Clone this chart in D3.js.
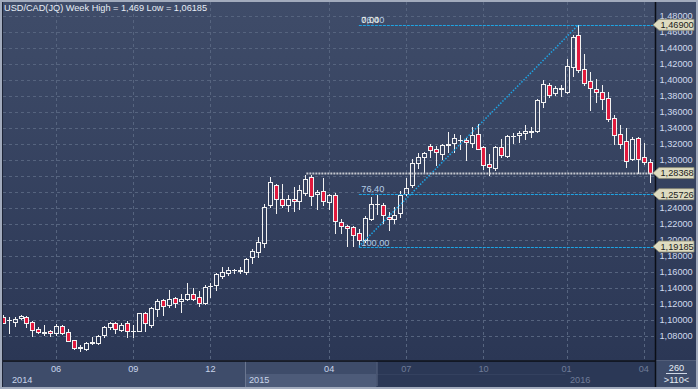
<!DOCTYPE html>
<html>
<head>
<meta charset="utf-8">
<title>USD/CAD(JQ) Week</title>
<script src="https://cdn.jsdelivr.net/npm/d3@7/dist/d3.min.js"></script>
<style>
  html, body { margin: 0; padding: 0; background: #a2abbd; }
  svg { display: block; }
  text { font-family: "Liberation Sans", Arial, sans-serif; font-size: 9.2px; }
</style>
</head>
<body>
<div id="chart"></div>
<script>
// weekly bars as seen on screen, oldest first (110 visible)
const opens = [
  1.1041, 1.0995, 1.0971, 1.1025, 1.1034, 1.0973, 1.0884, 1.0843, 1.0859, 1.0834,
  1.0925, 1.0846, 1.0750, 1.0655, 1.0638, 1.0718, 1.0716, 1.0809, 1.0909, 1.0959,
  1.0881, 1.0959, 1.0863, 1.0866, 1.1084, 1.0934, 1.1141, 1.1250, 1.1188, 1.1275,
  1.1234, 1.1263, 1.1325, 1.1284, 1.1209, 1.1422, 1.1434, 1.1550, 1.1591, 1.1619,
  1.1609, 1.1604, 1.1791, 1.1844, 1.1966, 1.2434, 1.2684, 1.2516, 1.2441, 1.2516,
  1.2491, 1.2591, 1.2784, 1.2571, 1.2609, 1.2471, 1.2559, 1.2221, 1.2175, 1.2159,
  1.2084, 1.2000, 1.2266, 1.2447, 1.2434, 1.2291, 1.2259, 1.2341, 1.2575, 1.2688,
  1.2966, 1.3034, 1.3172, 1.3134, 1.3079, 1.3193, 1.3216, 1.3247, 1.3246, 1.3209,
  1.3325, 1.3159, 1.2950, 1.2900, 1.3159, 1.3054, 1.3297, 1.3309, 1.3334, 1.3356,
  1.3359, 1.3719, 1.3938, 1.3834, 1.3889, 1.3850, 1.4166, 1.4563, 1.4134, 1.3984,
  1.3888, 1.3850, 1.3775, 1.3525, 1.3321, 1.3238, 1.3016, 1.3275, 1.3038, 1.2971
];
const highs = [
  1.1065, 1.1034, 1.1034, 1.1059, 1.1050, 1.0990, 1.0916, 1.0938, 1.0875, 1.0950,
  1.0938, 1.0884, 1.0756, 1.0691, 1.0720, 1.0791, 1.0816, 1.0925, 1.0975, 1.0975,
  1.0966, 1.0988, 1.0934, 1.1090, 1.1100, 1.1166, 1.1266, 1.1266, 1.1375, 1.1284,
  1.1325, 1.1463, 1.1400, 1.1359, 1.1434, 1.1463, 1.1591, 1.1666, 1.1659, 1.1641,
  1.1659, 1.1775, 1.1891, 1.2041, 1.2450, 1.2784, 1.2700, 1.2700, 1.2566, 1.2659,
  1.2684, 1.2816, 1.2816, 1.2625, 1.2775, 1.2575, 1.2584, 1.2259, 1.2191, 1.2175,
  1.2141, 1.2300, 1.2534, 1.2559, 1.2466, 1.2350, 1.2416, 1.2616, 1.2775, 1.3009,
  1.3091, 1.3100, 1.3200, 1.3171, 1.3200, 1.3350, 1.3325, 1.3309, 1.3275, 1.3409,
  1.3450, 1.3175, 1.3075, 1.3175, 1.3266, 1.3309, 1.3341, 1.3359, 1.3434, 1.3416,
  1.3766, 1.4000, 1.3959, 1.3925, 1.3934, 1.4259, 1.4566, 1.4690, 1.4325, 1.4100,
  1.4009, 1.3934, 1.3850, 1.3559, 1.3434, 1.3400, 1.3291, 1.3291, 1.3209, 1.3009
];
const lows = [
  1.0960, 1.0841, 1.0925, 1.1009, 1.0916, 1.0806, 1.0834, 1.0816, 1.0800, 1.0816,
  1.0825, 1.0738, 1.0638, 1.06185, 1.0629, 1.0696, 1.0700, 1.0784, 1.0891, 1.0841,
  1.0866, 1.0791, 1.0791, 1.0860, 1.0866, 1.0916, 1.1050, 1.1063, 1.1166, 1.1166,
  1.1104, 1.1250, 1.1250, 1.1175, 1.1200, 1.1291, 1.1375, 1.1525, 1.1566, 1.1591,
  1.1591, 1.1575, 1.1716, 1.1791, 1.1909, 1.2409, 1.2341, 1.2409, 1.2359, 1.2366,
  1.2391, 1.2566, 1.2441, 1.2391, 1.2441, 1.2384, 1.2084, 1.2091, 1.1925, 1.1925,
  1.19185, 1.1975, 1.2250, 1.2325, 1.2209, 1.2125, 1.2216, 1.2291, 1.2559, 1.2666,
  1.2900, 1.2850, 1.3034, 1.2941, 1.3009, 1.3100, 1.3100, 1.3141, 1.3000, 1.3166,
  1.3134, 1.2891, 1.2816, 1.2875, 1.3034, 1.3041, 1.3216, 1.3225, 1.3266, 1.3284,
  1.3350, 1.3666, 1.3791, 1.3809, 1.3800, 1.3834, 1.4050, 1.4100, 1.3938, 1.3625,
  1.3725, 1.3634, 1.3491, 1.3200, 1.3150, 1.2916, 1.3000, 1.2834, 1.2950, 1.2725
];
const closes = [
  1.0966, 1.1000, 1.1012, 1.1050, 1.0959, 1.0881, 1.0844, 1.0848, 1.0834, 1.0925,
  1.0841, 1.0741, 1.0654, 1.0665, 1.0716, 1.0725, 1.0800, 1.0909, 1.0959, 1.0888,
  1.0938, 1.0866, 1.0868, 1.1084, 1.0959, 1.1154, 1.1241, 1.1179, 1.1266, 1.1216,
  1.1263, 1.1325, 1.1266, 1.1216, 1.1409, 1.1428, 1.1575, 1.1600, 1.1625, 1.1623,
  1.1629, 1.1759, 1.1859, 1.1971, 1.2410, 1.2725, 1.2516, 1.2434, 1.2516, 1.2491,
  1.2621, 1.2766, 1.2546, 1.2596, 1.2484, 1.2559, 1.2234, 1.2171, 1.2150, 1.2059,
  1.2000, 1.2271, 1.2450, 1.2452, 1.2309, 1.2259, 1.2309, 1.2563, 1.2650, 1.2959,
  1.3034, 1.3084, 1.3119, 1.3094, 1.3184, 1.3198, 1.3271, 1.3252, 1.3221, 1.3309,
  1.3141, 1.2934, 1.2909, 1.3159, 1.3066, 1.3296, 1.3302, 1.3338, 1.3363, 1.3361,
  1.3750, 1.3950, 1.3816, 1.3900, 1.3894, 1.4175, 1.4541, 1.4125, 1.3966, 1.3906,
  1.3846, 1.3759, 1.3509, 1.3309, 1.3196, 1.2991, 1.3266, 1.3009, 1.2979, 1.28368
];

// time axis: bar index -> label
const monthTickIdx = [9, 22, 35, 55, 68, 81, 95, 108];
const monthTickLabels = ["06", "09", "12", "04", "07", "10", "01", "04"];
const yearIdx = [1, 41, 95];
const yearLabels = ["2014", "2015", "2016"];

// fibonacci drawing: from low bar to high bar
const fibLowIdx = 60, fibHighIdx = 97;
const fibLow = 1.19185, fibHigh = 1.469;
const fibLevels = [0, 76.4, 100];
const lastPrice = 1.28368;
const lastLineFromIdx = 52;
const barsLoaded = 260;

const W = 698, H = 389;
const pLeft = 3, pRight = 655, pTop = 2, pBottom = 360.5;

const fmtPrice = v => d3.format(".5f")(v).replace(".", ",");
const fmtPct = v => d3.format(".2f")(v).replace(".", ",");

const x = d3.scalePoint().domain(d3.range(opens.length)).range([2.7, 649.7]);
const y = d3.scaleLinear().domain([1.08, 1.48]).range([336, 16]);
const px = v => Math.round(v) + 0.5;

const svg = d3.select("#chart").append("svg")
  .attr("width", W).attr("height", H);

const defs = svg.append("defs");
const grad = defs.append("linearGradient").attr("id", "bg")
  .attr("x1", 0).attr("y1", 0).attr("x2", 0).attr("y2", 1);
grad.append("stop").attr("offset", 0).attr("stop-color", "#3f4c69");
grad.append("stop").attr("offset", 1).attr("stop-color", "#2b3755");
defs.append("clipPath").attr("id", "plotclip")
  .append("rect").attr("x", pLeft).attr("y", pTop).attr("width", pRight - pLeft).attr("height", pBottom - pTop);

// frame + backgrounds
svg.append("rect").attr("width", W).attr("height", H).attr("fill", "#a2abbd");
svg.append("rect").attr("x", 2).attr("y", 2).attr("width", W - 4).attr("height", pBottom - 2)
  .attr("fill", "url(#bg)");

const plot = svg.append("g").attr("clip-path", "url(#plotclip)");

// grid
const yTicks = y.ticks(20);
plot.append("g").selectAll("line").data(yTicks).join("line")
  .attr("x1", pLeft).attr("x2", pRight)
  .attr("y1", d => px(y(d))).attr("y2", d => px(y(d)))
  .attr("stroke", "#56647f").attr("stroke-dasharray", "3,3");
plot.append("g").selectAll("line").data(monthTickIdx).join("line")
  .attr("x1", d => px(x(d))).attr("x2", d => px(x(d)))
  .attr("y1", pTop).attr("y2", pBottom)
  .attr("stroke", "#56647f").attr("stroke-dasharray", "3,3");

// candles
const bars = d3.range(opens.length).map(i => ({
  i: i, o: opens[i], h: highs[i], l: lows[i], c: closes[i]
}));
const candle = plot.append("g").selectAll("g").data(bars).join("g");
candle.each(function(d) {
  const g = d3.select(this);
  const cx = px(x(d.i));
  const yTop = Math.round(y(Math.max(d.o, d.c)));
  const yBot = Math.round(y(Math.min(d.o, d.c)));
  const up = d.c >= d.o;
  g.append("line").attr("x1", cx).attr("x2", cx)
    .attr("y1", Math.round(y(d.h))).attr("y2", yTop + 0.5)
    .attr("stroke", "#f2f2f2");
  g.append("line").attr("x1", cx).attr("x2", cx)
    .attr("y1", yBot + 0.5).attr("y2", Math.round(y(d.l)) + 1)
    .attr("stroke", "#f2f2f2");
  if (yBot - yTop < 1) {
    g.append("line").attr("x1", cx - 2.5).attr("x2", cx + 2.5)
      .attr("y1", yTop + 0.5).attr("y2", yTop + 0.5)
      .attr("stroke", "#f2f2f2");
  } else {
    g.append("rect").attr("x", cx - 2).attr("y", yTop + 0.5)
      .attr("width", 4).attr("height", yBot - yTop)
      .attr("fill", up ? "none" : "#e1193d")
      .attr("stroke", "#f2f2f2");
  }
});

// fibonacci lines and trend line
const fibX0 = x(fibLowIdx);
const fibValue = p => fibHigh - (fibHigh - fibLow) * p / 100;
plot.append("g").selectAll("line").data(fibLevels).join("line")
  .attr("x1", fibX0).attr("x2", pRight)
  .attr("y1", d => px(y(fibValue(d)))).attr("y2", d => px(y(fibValue(d))))
  .attr("stroke", "#1ea4e4").attr("stroke-dasharray", "3,1");
plot.append("line")
  .attr("x1", fibX0).attr("y1", y(fibLow))
  .attr("x2", x(fibHighIdx)).attr("y2", y(fibHigh))
  .attr("stroke", "#1ea4e4").attr("stroke-width", 1.5).attr("stroke-dasharray", "1.5,1.5");

// last price line
plot.append("line")
  .attr("x1", x(lastLineFromIdx) - 5).attr("x2", pRight)
  .attr("y1", Math.round(y(lastPrice)) + 0.5).attr("y2", Math.round(y(lastPrice)) + 0.5)
  .attr("stroke", "#c4c7ce").attr("stroke-width", 2).attr("stroke-dasharray", "2,1");

// fib labels (0 and 76,40 overlap at the top, as on screen)
const fibLabelX = fibX0 + 2.5;
svg.append("text").attr("x", fibLabelX).attr("y", y(fibHigh) - 1.5)
  .attr("fill", "#b4cde6").text(fmtPct(76.4));
svg.append("text").attr("x", fibLabelX).attr("y", y(fibHigh) - 1.5)
  .attr("fill", "#f4f4e8").text(fmtPct(0));
svg.append("text").attr("x", fibLabelX).attr("y", y(fibValue(76.4)) - 1.8)
  .attr("fill", "#b4cde6").text(fmtPct(76.4));
svg.append("text").attr("x", fibLabelX).attr("y", y(fibLow) - 1)
  .attr("fill", "#b4cde6").text(fmtPct(100));

// title
svg.append("text").attr("x", 4).attr("y", 11.3).attr("fill", "#e6ecf5")
  .text("USD/CAD(JQ) Week High = " + String(fibHigh).replace(".", ",") +
        " Low = " + String(d3.min(lows)).replace(".", ","));

// bottom time band
const band = svg.append("g");
const shadeX = Math.round(x(63)) - 0.5;
const x2015 = Math.round(x(yearIdx[1])) - 1;
band.append("rect").attr("x", 2).attr("y", pBottom).attr("width", W - 4).attr("height", H - 2 - pBottom)
  .attr("fill", "#3e4c6a");
band.append("rect").attr("x", x2015).attr("y", 374).attr("width", shadeX - x2015).attr("height", 13)
  .attr("fill", "#4d5b79");
band.append("rect").attr("x", shadeX).attr("y", pBottom).attr("width", pRight - shadeX).attr("height", H - 2 - pBottom)
  .attr("fill", "#2b3856");
band.append("line").attr("x1", shadeX).attr("x2", x(yearIdx[2]) - 1).attr("y1", 374.5).attr("y2", 374.5)
  .attr("stroke", "#34415f");
band.append("line").attr("x1", x2015 + 0.5).attr("x2", x2015 + 0.5).attr("y1", pBottom).attr("y2", 387)
  .attr("stroke", "#6a7690");
band.append("line").attr("x1", shadeX + 0.5).attr("x2", shadeX + 0.5).attr("y1", 362).attr("y2", 386)
  .attr("stroke", "#5d6984");

band.selectAll("text.month").data(monthTickIdx).join("text")
  .attr("class", "month")
  .attr("x", d => x(d)).attr("y", 372.3).attr("text-anchor", "middle")
  .attr("fill", d => x(d) > shadeX ? "#6f7c98" : "#c8d4ea")
  .text((d, k) => monthTickLabels[k]);
band.selectAll("text.year").data(yearIdx).join("text")
  .attr("class", "year")
  .attr("x", d => Math.round(x(d)) + 3).attr("y", 383.3)
  .attr("fill", d => x(d) > shadeX ? "#6f7c98" : "#c8d4ea")
  .text((d, k) => yearLabels[k]);

// bars counter, bottom right
band.append("text").attr("x", 676.5).attr("y", 370.7).attr("text-anchor", "middle")
  .attr("fill", "#e6ecf5").text(barsLoaded);
band.append("line").attr("x1", 666).attr("x2", 687).attr("y1", 373.5).attr("y2", 373.5)
  .attr("stroke", "#d0d8e6");
band.append("text").attr("x", 676.5).attr("y", 383.3).attr("text-anchor", "middle")
  .attr("fill", "#e6ecf5").text(">" + opens.length + "<");

// axis lines
svg.append("line").attr("x1", 2).attr("x2", pRight).attr("y1", pBottom + 0.5).attr("y2", pBottom + 0.5)
  .attr("stroke", "#0b0e16").attr("stroke-width", 1.5);
svg.append("line").attr("x1", pRight + 0.5).attr("x2", pRight + 0.5).attr("y1", 2).attr("y2", 387)
  .attr("stroke", "#0b0e16").attr("stroke-width", 1.5);
svg.append("line").attr("x1", 2.5).attr("x2", 2.5).attr("y1", 2).attr("y2", 387)
  .attr("stroke", "#1d2436");

// price tags, and the axis labels they cover are left out
const tags = [fibHigh, lastPrice, fibValue(76.4), fibLow];
const shownTicks = yTicks.filter(v => tags.every(t => Math.abs(y(v) - y(t)) > 4));
svg.append("g").selectAll("text").data(shownTicks).join("text")
  .attr("x", 659.5).attr("y", d => y(d) + 3.3)
  .attr("fill", "#cfdaee").text(fmtPrice);

const tag = svg.append("g").selectAll("g").data(tags).join("g")
  .attr("transform", d => "translate(0," + y(d) + ")");
tag.append("path")
  .attr("d", "M653,0 L659,-5.5 L694,-5.5 L694,5.5 L659,5.5 Z")
  .attr("fill", "#dedbc0").attr("stroke", "#8d8b76").attr("stroke-width", 0.8);
tag.append("text").attr("x", 660.5).attr("y", 3.3)
  .attr("fill", "#1b1b1b").text(fmtPrice);
</script>
</body>
</html>
